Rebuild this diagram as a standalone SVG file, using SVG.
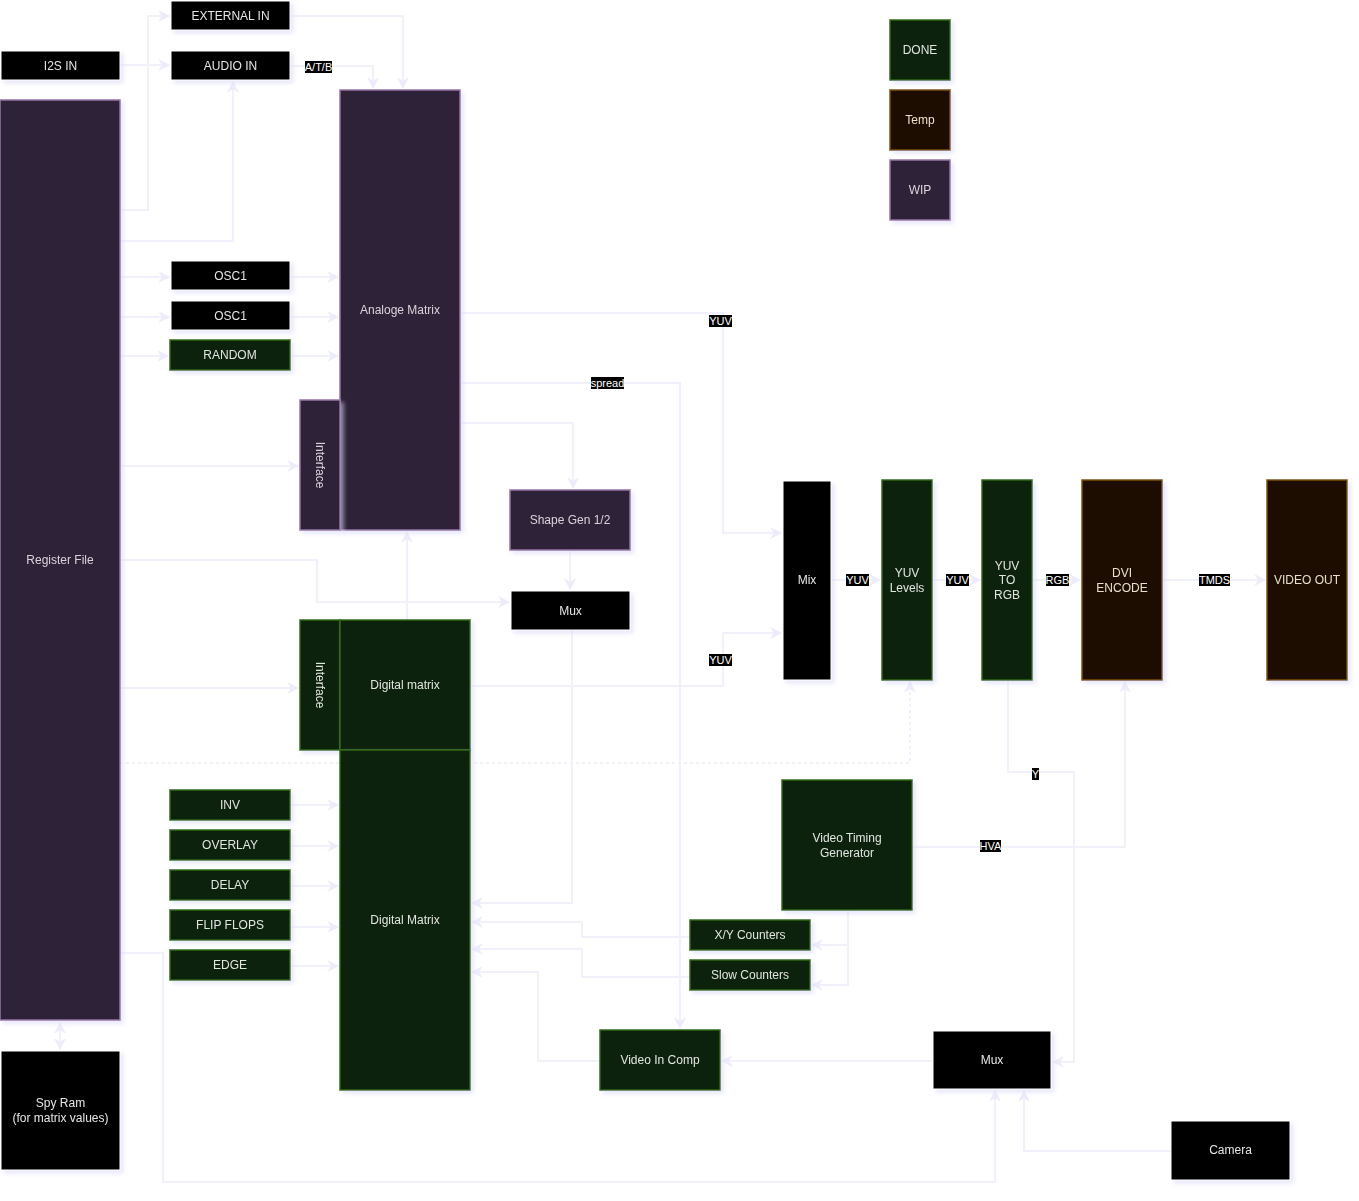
<svg xmlns="http://www.w3.org/2000/svg" width="1359" height="1201" viewBox="0 0 1359 1201">
<style>
  text { font-family: "Liberation Sans", Arial, sans-serif; font-size: 12px; text-anchor: middle; }
  .blk rect { fill: #000000; stroke: #ffffff; stroke-width: 1; }
  .blk text { fill: #e6e6e6; }
  .wip rect { fill: #2f2237; stroke: #9673a6; stroke-width: 1.5; }
  .wip text { fill: #d9d4dc; }
  .done rect { fill: #10200f; stroke: #2d6a10; stroke-width: 1.5; }
  .done text { fill: #e0e6e0; }
  .temp rect { fill: #1d0f02; stroke: #7a5200; stroke-width: 1.5; }
  .temp text { fill: #eadfc8; }
  .node { filter: url(#sh); }
  .c path { fill: none; stroke: #f1f1fc; stroke-width: 2; }
  .c path.d { stroke-dasharray: 3 3; }
  .lbl rect { fill: #000000; }
  .lbl text { fill: #ffffff; font-size: 11px; }
</style>
<defs>
  <filter id="sh" x="-20%" y="-20%" width="140%" height="140%">
    <feDropShadow dx="3" dy="3" stdDeviation="2" flood-color="#d8d8f8" flood-opacity="0.6"/>
  </filter>
  <marker id="a" viewBox="0 0 10 10" refX="9" refY="5" markerWidth="6" markerHeight="6" orient="auto-start-reverse">
    <path d="M0,0 L10,5 L0,10 L3,5 z" fill="#ececfa"/>
  </marker>
</defs>
<rect width="1359" height="1201" fill="#ffffff"/>

<g id="connectors" class="c">
  <path d="M120,210 H148 V16 H169" marker-end="url(#a)"/>
  <path d="M120,65 H169" marker-end="url(#a)"/>
  <path d="M120,241 H233 V82" marker-end="url(#a)"/>
  <path d="M290,16 H403 V88" marker-end="url(#a)"/>
  <path d="M290,66 H373 V88" marker-end="url(#a)"/>
  <path d="M120,277 H169" marker-end="url(#a)"/>
  <path d="M290,277 H338" marker-end="url(#a)"/>
  <path d="M120,317 H169" marker-end="url(#a)"/>
  <path d="M290,317 H338" marker-end="url(#a)"/>
  <path d="M120,356 H168" marker-end="url(#a)"/>
  <path d="M290,356 H338" marker-end="url(#a)"/>
  <path d="M120,466 H298" marker-end="url(#a)"/>
  <path d="M120,560 H317 V602 H509" marker-end="url(#a)"/>
  <path d="M120,688 H298" marker-end="url(#a)"/>
  <path class="d" d="M120,763 H910 V682" marker-end="url(#a)"/>
  <path d="M460,313 H723 V533 H781" marker-end="url(#a)"/>
  <path d="M460,383 H680 V1028" marker-end="url(#a)"/>
  <path d="M460,423 H573 V488" marker-end="url(#a)"/>
  <path d="M570,550 V589" marker-end="url(#a)"/>
  <path d="M572,630 V903 H472" marker-end="url(#a)"/>
  <path d="M470,686 H723 V633 H781" marker-end="url(#a)"/>
  <path d="M407,620 V532" marker-end="url(#a)"/>
  <path d="M290,805 H338" marker-end="url(#a)"/>
  <path d="M290,846 H338" marker-end="url(#a)"/>
  <path d="M290,886 H338" marker-end="url(#a)"/>
  <path d="M290,927 H338" marker-end="url(#a)"/>
  <path d="M290,966 H338" marker-end="url(#a)"/>
  <path d="M120,953 H163 V1182 H995 V1091" marker-end="url(#a)"/>
  <path d="M60,1023 V1049" marker-start="url(#a)" marker-end="url(#a)"/>
  <path d="M848,910 V985 H812" marker-end="url(#a)"/>
  <path d="M848,945 H812" marker-end="url(#a)"/>
  <path d="M690,937 H582 V922 H472" marker-end="url(#a)"/>
  <path d="M690,977 H582 V949 H472" marker-end="url(#a)"/>
  <path d="M600,1061 H538 V972 H472" marker-end="url(#a)"/>
  <path d="M933,1061 H722" marker-end="url(#a)"/>
  <path d="M1008,680 V772 H1074 V1062 H1053" marker-end="url(#a)"/>
  <path d="M912,847 H1125 V682" marker-end="url(#a)"/>
  <path d="M1171,1151 H1024 V1091" marker-end="url(#a)"/>
  <path d="M831,580 H880" marker-end="url(#a)"/>
  <path d="M932,580 H980" marker-end="url(#a)"/>
  <path d="M1032,580 H1080" marker-end="url(#a)"/>
  <path d="M1162,580 H1265" marker-end="url(#a)"/>
</g>

<g id="edge-labels" class="lbl">
  <rect x="305" y="61" width="27" height="12"/><text x="318.5" y="71">A/T/B</text>
  <rect x="709" y="315" width="23" height="12"/><text x="720.5" y="325">YUV</text>
  <rect x="591" y="377" width="33" height="12"/><text x="607.5" y="387">spread</text>
  <rect x="709" y="654" width="23" height="12"/><text x="720.5" y="664">YUV</text>
  <rect x="846" y="574" width="23" height="12"/><text x="857.5" y="584">YUV</text>
  <rect x="946" y="574" width="23" height="12"/><text x="957.5" y="584">YUV</text>
  <rect x="1046" y="574" width="23" height="12"/><text x="1057.5" y="584">RGB</text>
  <rect x="1199" y="574" width="31" height="12"/><text x="1214.5" y="584">TMDS</text>
  <rect x="1032" y="768" width="7" height="12"/><text x="1035.5" y="778">Y</text>
  <rect x="980" y="840" width="21" height="12"/><text x="990.5" y="850">HVA</text>
</g>

<g id="external-in" class="node blk"><rect x="171" y="1" width="119" height="29"/><text x="230.5" y="19.5">EXTERNAL IN</text></g>
<g id="i2s-in" class="node blk"><rect x="1" y="51" width="119" height="29"/><text x="60.5" y="69.5">I2S IN</text></g>
<g id="audio-in" class="node blk"><rect x="171" y="51" width="119" height="29"/><text x="230.5" y="69.5">AUDIO IN</text></g>
<g id="register-file" class="node wip"><rect x="0" y="100" width="120" height="920"/><text x="60" y="564">Register File</text></g>
<g id="osc1-a" class="node blk"><rect x="171" y="261" width="119" height="29"/><text x="230.5" y="279.5">OSC1</text></g>
<g id="osc1-b" class="node blk"><rect x="171" y="301" width="119" height="29"/><text x="230.5" y="319.5">OSC1</text></g>
<g id="random" class="node done"><rect x="170" y="340" width="120" height="30"/><text x="230" y="359">RANDOM</text></g>
<g id="analoge-matrix" class="node wip"><rect x="340" y="90" width="120" height="440"/><text x="400" y="314">Analoge Matrix</text></g>
<g id="interface-a" class="node wip"><rect x="300" y="400" width="40" height="130"/><text transform="translate(320,465) rotate(90)" y="4">Interface</text></g>
<g id="shape-gen" class="node wip"><rect x="510" y="490" width="120" height="60"/><text x="570" y="524">Shape Gen 1/2</text></g>
<g id="mux-a" class="node blk"><rect x="511" y="591" width="119" height="39"/><text x="570.5" y="614.5">Mux</text></g>
<g id="interface-d" class="node done"><rect x="300" y="620" width="40" height="130"/><text transform="translate(320,685) rotate(90)" y="4">Interface</text></g>
<g id="digital-matrix-top" class="node done"><rect x="340" y="620" width="130" height="130"/><text x="405" y="689">Digital matrix</text></g>
<g id="digital-matrix" class="node done"><rect x="340" y="750" width="130" height="340"/><text x="405" y="924">Digital Matrix</text></g>
<g id="inv" class="node done"><rect x="170" y="790" width="120" height="30"/><text x="230" y="809">INV</text></g>
<g id="overlay" class="node done"><rect x="170" y="830" width="120" height="30"/><text x="230" y="849">OVERLAY</text></g>
<g id="delay" class="node done"><rect x="170" y="870" width="120" height="30"/><text x="230" y="889">DELAY</text></g>
<g id="flip-flops" class="node done"><rect x="170" y="910" width="120" height="30"/><text x="230" y="929">FLIP FLOPS</text></g>
<g id="edge" class="node done"><rect x="170" y="950" width="120" height="30"/><text x="230" y="969">EDGE</text></g>
<g id="spy-ram" class="node blk"><rect x="1" y="1051" width="119" height="119"/><text x="60.5" y="1107">Spy Ram</text><text x="60.5" y="1122">(for matrix values)</text></g>
<g id="mix" class="node blk"><rect x="783" y="481" width="48" height="199"/><text x="807" y="584">Mix</text></g>
<g id="yuv-levels" class="node done"><rect x="882" y="480" width="50" height="200"/><text x="907" y="577">YUV</text><text x="907" y="592">Levels</text></g>
<g id="yuv-to-rgb" class="node done"><rect x="982" y="480" width="50" height="200"/><text x="1007" y="570">YUV</text><text x="1007" y="584">TO</text><text x="1007" y="599">RGB</text></g>
<g id="dvi-encode" class="node temp"><rect x="1082" y="480" width="80" height="200"/><text x="1122" y="577">DVI</text><text x="1122" y="592">ENCODE</text></g>
<g id="video-out" class="node temp"><rect x="1267" y="480" width="80" height="200"/><text x="1307" y="584">VIDEO OUT</text></g>
<g id="video-timing" class="node done"><rect x="782" y="780" width="130" height="130"/><text x="847" y="842">Video Timing</text><text x="847" y="857">Generator</text></g>
<g id="xy-counters" class="node done"><rect x="690" y="920" width="120" height="30"/><text x="750" y="939">X/Y Counters</text></g>
<g id="slow-counters" class="node done"><rect x="690" y="960" width="120" height="30"/><text x="750" y="979">Slow Counters</text></g>
<g id="video-in-comp" class="node done"><rect x="600" y="1030" width="120" height="60"/><text x="660" y="1064">Video In Comp</text></g>
<g id="mux-b" class="node blk"><rect x="933" y="1031" width="118" height="58"/><text x="992" y="1064">Mux</text></g>
<g id="camera" class="node blk"><rect x="1171" y="1121" width="119" height="59"/><text x="1230.5" y="1154">Camera</text></g>
<g id="legend-done" class="node done"><rect x="890" y="20" width="60" height="60"/><text x="920" y="54">DONE</text></g>
<g id="legend-temp" class="node temp"><rect x="890" y="90" width="60" height="60"/><text x="920" y="124">Temp</text></g>
<g id="legend-wip" class="node wip"><rect x="890" y="160" width="60" height="60"/><text x="920" y="194">WIP</text></g>
</svg>
